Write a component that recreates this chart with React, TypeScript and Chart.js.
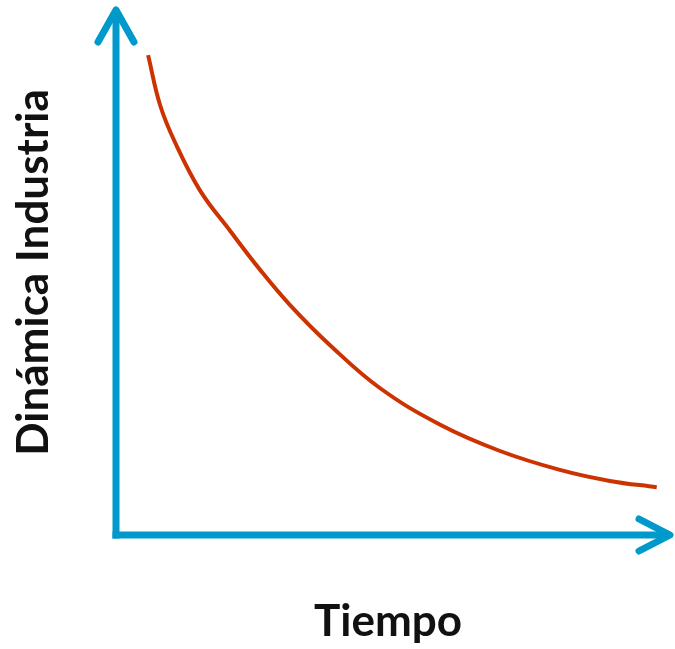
import React, { useEffect, useRef } from "react";
import { Chart, registerables } from "chart.js";

Chart.register(...registerables);

// Curve (x: time 0-100, y: industry dynamics 0-100)
const timeValues = [5.9, 8.1, 10.8, 15.4, 21.0, 26.5, 32.0, 39.3, 48.5, 59.6, 70.6, 81.6, 90.8, 99.4];
const dynamicsValues = [91.4, 81.9, 74.9, 65.7, 57.9, 50.5, 43.8, 36.2, 28.0, 21.0, 16.0, 12.4, 10.3, 9.1];

const xTitle = "Tiempo";
const yTitle = "Dinámica Industria";

const AXIS_COLOR = "#0099CC";
const CURVE_COLOR = "#CC3300";

const arrowAxesPlugin = {
  id: "arrowAxes",
  beforeDatasetsDraw(chart: any) {
    const { ctx, chartArea } = chart;
    const { left, right, top, bottom } = chartArea;
    const lw = 7;
    ctx.save();
    ctx.strokeStyle = AXIS_COLOR;
    ctx.lineWidth = lw;
    // vertical axis
    ctx.lineCap = "butt";
    ctx.beginPath();
    ctx.moveTo(left, bottom + lw / 2);
    ctx.lineTo(left, top + 2);
    ctx.stroke();
    // horizontal axis
    const tipX = right + 10;
    ctx.beginPath();
    ctx.moveTo(left - lw / 2, bottom);
    ctx.lineTo(tipX - 2, bottom);
    ctx.stroke();
    // arrow heads
    ctx.lineCap = "round";
    ctx.lineJoin = "round";
    ctx.beginPath();
    ctx.moveTo(left - 18, top + 32);
    ctx.lineTo(left, top);
    ctx.lineTo(left + 18, top + 32);
    ctx.stroke();
    ctx.beginPath();
    ctx.moveTo(tipX - 31, bottom - 16);
    ctx.lineTo(tipX, bottom);
    ctx.lineTo(tipX - 31, bottom + 16);
    ctx.stroke();
    ctx.restore();
  },
};

export default function App() {
  const canvasRef = useRef<HTMLCanvasElement | null>(null);

  useEffect(() => {
    document.body.style.margin = "0";
    const canvas = canvasRef.current;
    if (!canvas) return;
    const titleFont = { family: "Lato", weight: "bold" as const, size: 44, lineHeight: 1.2 };
    const chart = new Chart(canvas, {
      type: "line",
      data: {
        datasets: [
          {
            data: timeValues.map((x, i) => ({ x, y: dynamicsValues[i] })),
            borderColor: CURVE_COLOR,
            borderWidth: 4,
            pointRadius: 0,
            pointHoverRadius: 0,
            tension: 0.4,
            fill: false,
          },
        ],
      },
      options: {
        animation: false,
        responsive: false,
        devicePixelRatio: 1,
        events: [],
        layout: { padding: { left: 0, top: 10, right: 15, bottom: 0 } },
        plugins: { legend: { display: false }, tooltip: { enabled: false } },
        scales: {
          x: {
            type: "linear",
            min: 0,
            max: 100,
            grid: { display: false, drawTicks: false },
            border: { display: false },
            ticks: { display: false },
            title: {
              display: true,
              text: xTitle,
              color: "#111",
              font: titleFont,
              padding: { top: 60.6, bottom: 0.6 },
            },
            afterFit: (scale: any) => {
              scale.height = 114;
            },
          },
          y: {
            type: "linear",
            min: 0,
            max: 100,
            grid: { display: false, drawTicks: false },
            border: { display: false },
            ticks: { display: false },
            title: {
              display: true,
              text: yTitle,
              color: "#111",
              font: titleFont,
              padding: { top: 7, bottom: 56.2 },
            },
            afterFit: (scale: any) => {
              scale.width = 116;
            },
          },
        },
      },
      plugins: [arrowAxesPlugin],
    });
    return () => chart.destroy();
  }, []);

  return (
    <div style={{ width: 675, height: 649, position: "relative", background: "#fff" }}>
      <canvas ref={canvasRef} width={675} height={649} style={{ display: "block" }} />
    </div>
  );
}
